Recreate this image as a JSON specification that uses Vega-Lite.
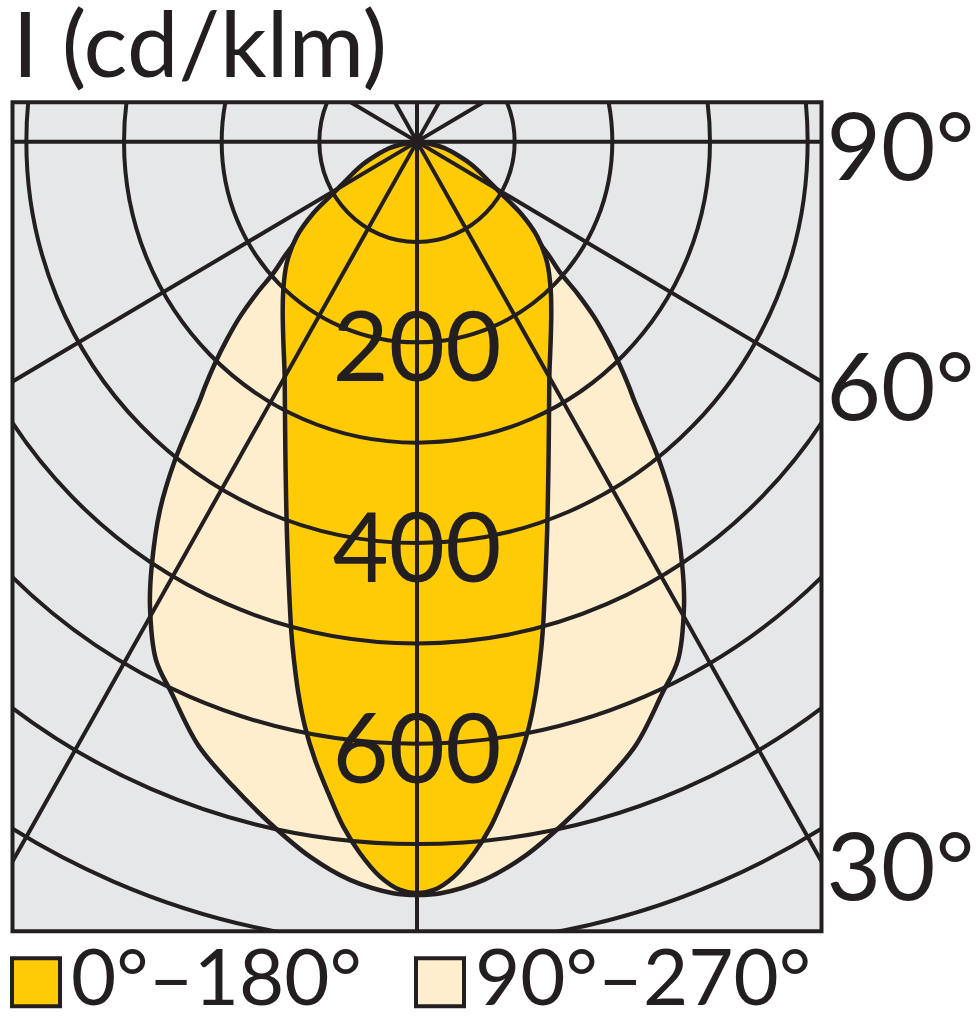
{
  "$schema": "https://vega.github.io/schema/vega-lite/v6.json",
  "width": 809,
  "height": 829,
  "autosize": "none",
  "padding": {"left": 12.5, "top": 102.3, "right": 157.5, "bottom": 92.7},
  "title": {"text": "I (cd/klm)", "anchor": "start", "font": "Lato", "fontSize": 92, "fontWeight": "normal", "color": "#231F20", "offset": 6, "frame": "group"},
  "datasets": {
    "dark": [
      {"series": "0°–180°", "i": 0, "x": 0, "y": 0},
      {"series": "0°–180°", "i": 1, "x": -13.3, "y": -2.3},
      {"series": "0°–180°", "i": 2, "x": -27.6, "y": -6.3},
      {"series": "0°–180°", "i": 3, "x": -43.0, "y": -14.3},
      {"series": "0°–180°", "i": 4, "x": -56.0, "y": -23.0},
      {"series": "0°–180°", "i": 5, "x": -66.0, "y": -32.0},
      {"series": "0°–180°", "i": 6, "x": -85.7, "y": -51.4},
      {"series": "0°–180°", "i": 7, "x": -106.2, "y": -71.4},
      {"series": "0°–180°", "i": 8, "x": -123.2, "y": -94.7},
      {"series": "0°–180°", "i": 9, "x": -133.4, "y": -121.2},
      {"series": "0°–180°", "i": 10, "x": -136.9, "y": -147.8},
      {"series": "0°–180°", "i": 11, "x": -137.5, "y": -171.0},
      {"series": "0°–180°", "i": 12, "x": -136.9, "y": -197.6},
      {"series": "0°–180°", "i": 13, "x": -135.6, "y": -230.8},
      {"series": "0°–180°", "i": 14, "x": -135.3, "y": -257.4},
      {"series": "0°–180°", "i": 15, "x": -135.0, "y": -290.6},
      {"series": "0°–180°", "i": 16, "x": -134.6, "y": -323.9},
      {"series": "0°–180°", "i": 17, "x": -134.0, "y": -357.1},
      {"series": "0°–180°", "i": 18, "x": -133.2, "y": -390.2},
      {"series": "0°–180°", "i": 19, "x": -132.0, "y": -423.5},
      {"series": "0°–180°", "i": 20, "x": -130.5, "y": -456.7},
      {"series": "0°–180°", "i": 21, "x": -128.6, "y": -489.9},
      {"series": "0°–180°", "i": 22, "x": -126.0, "y": -516.5},
      {"series": "0°–180°", "i": 23, "x": -121.5, "y": -549.7},
      {"series": "0°–180°", "i": 24, "x": -114.7, "y": -583.0},
      {"series": "0°–180°", "i": 25, "x": -104.4, "y": -616.1},
      {"series": "0°–180°", "i": 26, "x": -90.8, "y": -649.3},
      {"series": "0°–180°", "i": 27, "x": -75.5, "y": -682.6},
      {"series": "0°–180°", "i": 28, "x": -58.4, "y": -709.1},
      {"series": "0°–180°", "i": 29, "x": -37.9, "y": -732.4},
      {"series": "0°–180°", "i": 30, "x": -17.4, "y": -745.7},
      {"series": "0°–180°", "i": 31, "x": 0, "y": -749.0},
      {"series": "0°–180°", "i": 32, "x": 17.4, "y": -745.7},
      {"series": "0°–180°", "i": 33, "x": 37.9, "y": -732.4},
      {"series": "0°–180°", "i": 34, "x": 58.4, "y": -709.1},
      {"series": "0°–180°", "i": 35, "x": 75.5, "y": -682.6},
      {"series": "0°–180°", "i": 36, "x": 90.8, "y": -649.3},
      {"series": "0°–180°", "i": 37, "x": 104.4, "y": -616.1},
      {"series": "0°–180°", "i": 38, "x": 114.7, "y": -583.0},
      {"series": "0°–180°", "i": 39, "x": 121.5, "y": -549.7},
      {"series": "0°–180°", "i": 40, "x": 126.0, "y": -516.5},
      {"series": "0°–180°", "i": 41, "x": 128.6, "y": -489.9},
      {"series": "0°–180°", "i": 42, "x": 130.5, "y": -456.7},
      {"series": "0°–180°", "i": 43, "x": 132.0, "y": -423.5},
      {"series": "0°–180°", "i": 44, "x": 133.2, "y": -390.2},
      {"series": "0°–180°", "i": 45, "x": 134.0, "y": -357.1},
      {"series": "0°–180°", "i": 46, "x": 134.6, "y": -323.9},
      {"series": "0°–180°", "i": 47, "x": 135.0, "y": -290.6},
      {"series": "0°–180°", "i": 48, "x": 135.3, "y": -257.4},
      {"series": "0°–180°", "i": 49, "x": 135.6, "y": -230.8},
      {"series": "0°–180°", "i": 50, "x": 136.9, "y": -197.6},
      {"series": "0°–180°", "i": 51, "x": 137.5, "y": -171.0},
      {"series": "0°–180°", "i": 52, "x": 136.9, "y": -147.8},
      {"series": "0°–180°", "i": 53, "x": 133.4, "y": -121.2},
      {"series": "0°–180°", "i": 54, "x": 123.2, "y": -94.7},
      {"series": "0°–180°", "i": 55, "x": 106.2, "y": -71.4},
      {"series": "0°–180°", "i": 56, "x": 85.7, "y": -51.4},
      {"series": "0°–180°", "i": 57, "x": 66.0, "y": -32.0},
      {"series": "0°–180°", "i": 58, "x": 56.0, "y": -23.0},
      {"series": "0°–180°", "i": 59, "x": 43.0, "y": -14.3},
      {"series": "0°–180°", "i": 60, "x": 27.6, "y": -6.3},
      {"series": "0°–180°", "i": 61, "x": 13.3, "y": -2.3},
      {"series": "0°–180°", "i": 62, "x": 0, "y": 0}
    ],
    "cream": [
      {"series": "90°–270°", "i": 0, "x": 0, "y": 0},
      {"series": "90°–270°", "i": 1, "x": -14, "y": -4},
      {"series": "90°–270°", "i": 2, "x": -31, "y": -12},
      {"series": "90°–270°", "i": 3, "x": -51, "y": -28},
      {"series": "90°–270°", "i": 4, "x": -74, "y": -50},
      {"series": "90°–270°", "i": 5, "x": -95, "y": -72},
      {"series": "90°–270°", "i": 6, "x": -119.8, "y": -94.7},
      {"series": "90°–270°", "i": 7, "x": -133.4, "y": -111.2},
      {"series": "90°–270°", "i": 8, "x": -147.1, "y": -131.1},
      {"series": "90°–270°", "i": 9, "x": -164.1, "y": -151.1},
      {"series": "90°–270°", "i": 10, "x": -181.2, "y": -174.4},
      {"series": "90°–270°", "i": 11, "x": -194.9, "y": -197.6},
      {"series": "90°–270°", "i": 12, "x": -206.8, "y": -220.8},
      {"series": "90°–270°", "i": 13, "x": -217.1, "y": -244.1},
      {"series": "90°–270°", "i": 14, "x": -222.2, "y": -257.4},
      {"series": "90°–270°", "i": 15, "x": -247.8, "y": -317.2},
      {"series": "90°–270°", "i": 16, "x": -263.2, "y": -367.0},
      {"series": "90°–270°", "i": 17, "x": -271.7, "y": -423.5},
      {"series": "90°–270°", "i": 18, "x": -273.4, "y": -463.4},
      {"series": "90°–270°", "i": 19, "x": -267.3, "y": -516.5},
      {"series": "90°–270°", "i": 20, "x": -251.2, "y": -549.7},
      {"series": "90°–270°", "i": 21, "x": -224.2, "y": -601.2},
      {"series": "90°–270°", "i": 22, "x": -188.1, "y": -642.7},
      {"series": "90°–270°", "i": 23, "x": -150.5, "y": -679.2},
      {"series": "90°–270°", "i": 24, "x": -109.6, "y": -712.5},
      {"series": "90°–270°", "i": 25, "x": -68.6, "y": -735.7},
      {"series": "90°–270°", "i": 26, "x": -24.3, "y": -749.0},
      {"series": "90°–270°", "i": 27, "x": 0, "y": -750.7},
      {"series": "90°–270°", "i": 28, "x": 24.3, "y": -749.0},
      {"series": "90°–270°", "i": 29, "x": 68.6, "y": -735.7},
      {"series": "90°–270°", "i": 30, "x": 109.6, "y": -712.5},
      {"series": "90°–270°", "i": 31, "x": 150.5, "y": -679.2},
      {"series": "90°–270°", "i": 32, "x": 188.1, "y": -642.7},
      {"series": "90°–270°", "i": 33, "x": 224.2, "y": -601.2},
      {"series": "90°–270°", "i": 34, "x": 251.2, "y": -549.7},
      {"series": "90°–270°", "i": 35, "x": 267.3, "y": -516.5},
      {"series": "90°–270°", "i": 36, "x": 273.4, "y": -463.4},
      {"series": "90°–270°", "i": 37, "x": 271.7, "y": -423.5},
      {"series": "90°–270°", "i": 38, "x": 263.2, "y": -367.0},
      {"series": "90°–270°", "i": 39, "x": 247.8, "y": -317.2},
      {"series": "90°–270°", "i": 40, "x": 222.2, "y": -257.4},
      {"series": "90°–270°", "i": 41, "x": 217.1, "y": -244.1},
      {"series": "90°–270°", "i": 42, "x": 206.8, "y": -220.8},
      {"series": "90°–270°", "i": 43, "x": 194.9, "y": -197.6},
      {"series": "90°–270°", "i": 44, "x": 181.2, "y": -174.4},
      {"series": "90°–270°", "i": 45, "x": 164.1, "y": -151.1},
      {"series": "90°–270°", "i": 46, "x": 147.1, "y": -131.1},
      {"series": "90°–270°", "i": 47, "x": 133.4, "y": -111.2},
      {"series": "90°–270°", "i": 48, "x": 119.8, "y": -94.7},
      {"series": "90°–270°", "i": 49, "x": 95, "y": -72},
      {"series": "90°–270°", "i": 50, "x": 74, "y": -50},
      {"series": "90°–270°", "i": 51, "x": 51, "y": -28},
      {"series": "90°–270°", "i": 52, "x": 31, "y": -12},
      {"series": "90°–270°", "i": 53, "x": 14, "y": -4},
      {"series": "90°–270°", "i": 54, "x": 0, "y": 0}
    ],
    "circles": [
      {"cx": 0, "cy": 0, "r": 100}, {"cx": 0, "cy": 0, "r": 200}, {"cx": 0, "cy": 0, "r": 300}, {"cx": 0, "cy": 0, "r": 400},
      {"cx": 0, "cy": 0, "r": 500}, {"cx": 0, "cy": 0, "r": 600}, {"cx": 0, "cy": 0, "r": 700}, {"cx": 0, "cy": 0, "r": 800}
    ],
    "rays": [
      {"angle": 0, "sx": 0, "sy": 0, "ex": 0, "ey": -1000},
      {"angle": 30, "sx": 0, "sy": 0, "ex": 500, "ey": -866},
      {"angle": 60, "sx": 0, "sy": 0, "ex": 866, "ey": -500},
      {"angle": 90, "sx": 0, "sy": 0, "ex": 1000, "ey": 0},
      {"angle": 120, "sx": 0, "sy": 0, "ex": 866, "ey": 500},
      {"angle": 150, "sx": 0, "sy": 0, "ex": 500, "ey": 866},
      {"angle": 180, "sx": 0, "sy": 0, "ex": 0, "ey": 1000},
      {"angle": -150, "sx": 0, "sy": 0, "ex": -500, "ey": 866},
      {"angle": -120, "sx": 0, "sy": 0, "ex": -866, "ey": 500},
      {"angle": -90, "sx": 0, "sy": 0, "ex": -1000, "ey": 0},
      {"angle": -60, "sx": 0, "sy": 0, "ex": -866, "ey": -500},
      {"angle": -30, "sx": 0, "sy": 0, "ex": -500, "ey": -866}
    ],
    "rlabels": [
      {"t": "200", "x": 0, "y": -200},
      {"t": "400", "x": 0, "y": -400},
      {"t": "600", "x": 0, "y": -600}
    ],
    "alabels": [
      {"t": "90°", "x": 414.2, "y": 0},
      {"t": "60°", "x": 414.2, "y": -239.1},
      {"t": "30°", "x": 414.2, "y": -717.4}
    ]
  },
  "layer": [
    {
      "data": {"name": "cream"},
      "mark": {"type": "line", "filled": true, "stroke": "#231F20", "strokeWidth": 4.5, "strokeJoin": "round", "interpolate": "catmull-rom", "opacity": 1, "fillOpacity": 1},
      "encoding": {
        "x": {"field": "x", "type": "quantitative", "scale": {"domain": [-414.2, 414.2], "nice": false, "zero": false}, "axis": null},
        "y": {"field": "y", "type": "quantitative", "scale": {"domain": [-786.9, 39.2], "nice": false, "zero": false}, "axis": null},
        "order": {"field": "i", "type": "quantitative"},
        "color": {"field": "series", "type": "nominal", "scale": {"domain": ["0°–180°", "90°–270°"], "range": ["#FFCB05", "#FEEECD"]}, "legend": {"title": null}}
      }
    },
    {
      "data": {"name": "dark"},
      "mark": {"type": "line", "filled": true, "stroke": "#231F20", "strokeWidth": 4.5, "strokeJoin": "round", "interpolate": "catmull-rom", "opacity": 1, "fillOpacity": 1},
      "encoding": {
        "x": {"field": "x", "type": "quantitative", "axis": null},
        "y": {"field": "y", "type": "quantitative", "axis": null},
        "order": {"field": "i", "type": "quantitative"},
        "color": {"field": "series", "type": "nominal", "legend": {"title": null}}
      }
    },
    {
      "data": {"name": "circles"},
      "mark": {"type": "point", "shape": "M 0.9732 0 C 0.9732 0.5523 0.5375 1 0 1 C -0.5375 1 -0.9732 0.5523 -0.9732 0 C -0.9732 -0.5523 -0.5375 -1 0 -1 C 0.5375 -1 0.9732 -0.5523 0.9732 0 Z", "filled": false, "stroke": "#231F20", "strokeWidth": 4, "opacity": 1, "clip": true},
      "encoding": {
        "x": {"field": "cx", "type": "quantitative", "axis": null},
        "y": {"field": "cy", "type": "quantitative", "axis": null},
        "size": {"field": "r", "type": "quantitative", "scale": {"type": "pow", "exponent": 2, "domain": [0, 800], "range": [0, 2577951]}, "legend": null}
      }
    },
    {
      "data": {"name": "rays"},
      "mark": {"type": "rule", "stroke": "#231F20", "strokeWidth": 4, "clip": true},
      "encoding": {
        "x": {"field": "sx", "type": "quantitative", "axis": null},
        "y": {"field": "sy", "type": "quantitative", "axis": null},
        "x2": {"field": "ex"},
        "y2": {"field": "ey"}
      }
    },
    {
      "data": {"name": "rlabels"},
      "mark": {"type": "text", "font": "Lato", "fontSize": 97, "color": "#231F20", "align": "center", "baseline": "middle", "dy": 10},
      "encoding": {
        "x": {"field": "x", "type": "quantitative", "axis": null},
        "y": {"field": "y", "type": "quantitative", "axis": null},
        "text": {"field": "t"}
      }
    },
    {
      "data": {"name": "alabels"},
      "mark": {"type": "text", "font": "Lato", "fontSize": 94, "color": "#231F20", "align": "left", "baseline": "middle", "dx": 5, "dy": 10},
      "encoding": {
        "x": {"field": "x", "type": "quantitative", "axis": null},
        "y": {"field": "y", "type": "quantitative", "axis": null},
        "text": {"field": "t"}
      }
    }
  ],
  "config": {
    "view": {"fill": "#E6E7E8", "stroke": "#231F20", "strokeWidth": 4},
    "legend": {
      "orient": "bottom",
      "direction": "horizontal",
      "symbolType": "square",
      "symbolSize": 2304,
      "symbolStrokeColor": "#231F20",
      "symbolStrokeWidth": 4,
      "symbolOpacity": 1,
      "symbolOffset": -15.5,
      "labelFont": "Lato",
      "labelFontSize": 78,
      "labelColor": "#231F20",
      "labelLimit": 0,
      "labelOffset": -4,
      "columnPadding": 45,
      "offset": 12,
      "padding": 0
    }
  }
}
